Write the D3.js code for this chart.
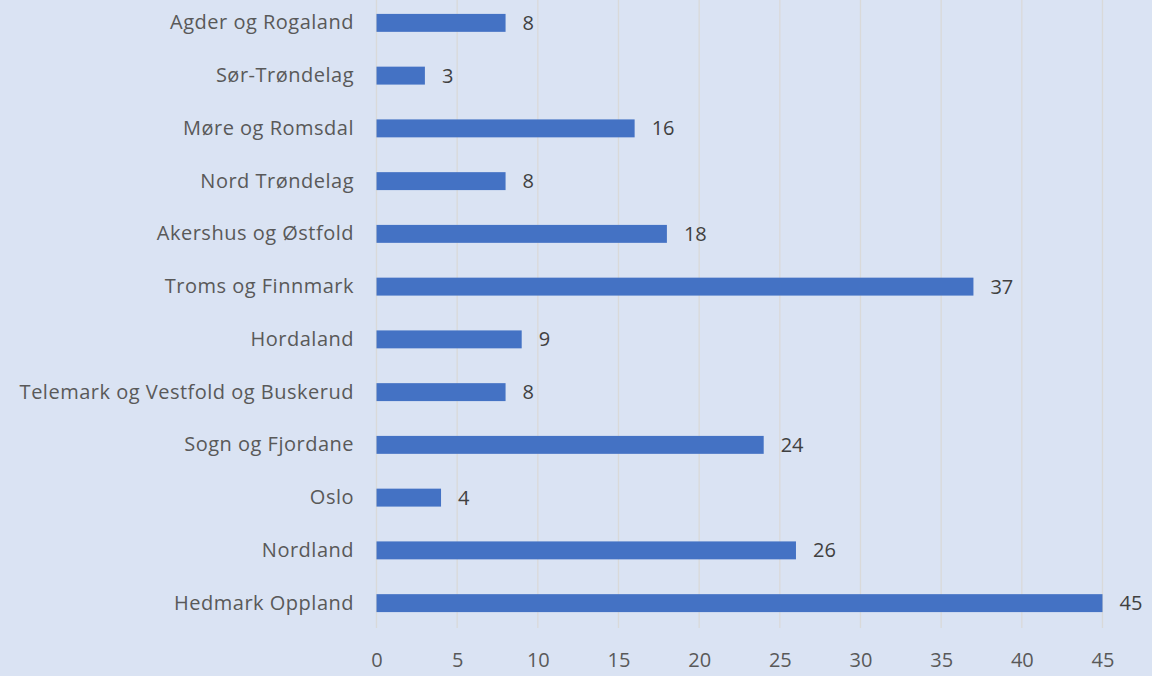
<!DOCTYPE html>
<html><head><meta charset="utf-8">
<script src="https://cdn.jsdelivr.net/npm/d3@7"></script>
<style>body{margin:0;background:#DAE3F3;}svg{display:block;}</style>
</head><body>
<script>
const categories = ["Agder og Rogaland","Sør-Trøndelag","Møre og Romsdal","Nord Trøndelag","Akershus og Østfold","Troms og Finnmark","Hordaland","Telemark og Vestfold og Buskerud","Sogn og Fjordane","Oslo","Nordland","Hedmark Oppland"];
const values = [8,3,16,8,18,37,9,8,24,4,26,45];
const xTicks = [0,5,10,15,20,25,30,35,40,45];

const W = 1152, H = 676;
const svg = d3.select("body").append("svg").attr("width", W).attr("height", H);
svg.append("rect").attr("width", W).attr("height", H).attr("fill", "#DAE3F3");

const font = "'Open Sans', sans-serif";
const fs = 20;
const ls = 0.5;
const x = d3.scaleLinear().domain([0,45]).range([376.5,1102.5]);
const y = d3.scaleBand().domain(categories).range([-3.5,629.5]).paddingInner(0.66).paddingOuter(0.33);

// gridlines
svg.append("g").selectAll("line").data(xTicks).join("line")
  .attr("x1", d=>x(d)).attr("x2", d=>x(d)).attr("y1", 0).attr("y2", 628)
  .attr("stroke", "#D9D9D9").attr("stroke-width", 1.3);

// x axis
const xAxis = svg.append("g").attr("transform","translate(0,628)")
  .call(d3.axisBottom(x).tickValues(xTicks).tickSize(0).tickPadding(25));
xAxis.select(".domain").remove();
xAxis.selectAll("text").attr("font-family", font).attr("font-size", fs).attr("fill", "#595959");

// y axis
const yAxis = svg.append("g").attr("transform","translate(376,0)")
  .call(d3.axisLeft(y).tickSize(0).tickPadding(22));
yAxis.select(".domain").remove();
yAxis.selectAll("text").attr("font-family", font).attr("font-size", fs).attr("fill", "#595959")
  .attr("letter-spacing", ls);

const data = categories.map((c,i)=>({c, v: values[i]}));
svg.append("g").selectAll("rect").data(data).join("rect")
  .attr("x", x(0)).attr("y", d=>y(d.c)).attr("width", d=>x(d.v)-x(0)).attr("height", y.bandwidth())
  .attr("fill", "#4472C4");

svg.append("g").selectAll("text").data(data).join("text")
  .attr("x", d=>x(d.v)+17).attr("y", d=>y(d.c)+y.bandwidth()/2).attr("dy","0.35em")
  .attr("font-family", font).attr("font-size", fs).attr("fill", "#404040")
  .text(d=>d.v);
</script>
</body></html>
